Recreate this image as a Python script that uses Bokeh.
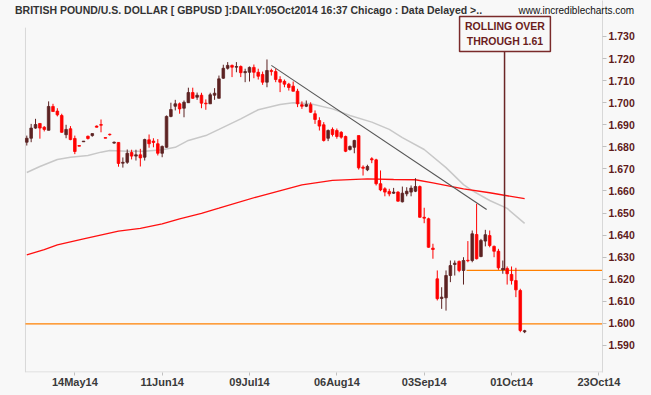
from bokeh.plotting import figure
from bokeh.models import ColumnDataSource, FixedTicker, PrintfTickFormatter, Range1d
from bokeh.core.properties import value
from bokeh.embed import file_html
from bokeh.resources import INLINE

# ---------------- data (GBPUSD daily, bar 0 = 29 Apr 2014, bar 114 = 05 Oct 2014) ----------------
opens = [
    1.6821, 1.6839, 1.6885, 1.6906, 1.6889, 1.6875, 1.6983, 1.6962, 1.6942, 1.6855,
    1.6882, 1.6838, 1.6806, 1.6823, 1.6848, 1.6851, 1.6894, 1.6901, 1.6842, 1.6857,
    1.6817, 1.6820, 1.6726, 1.6730, 1.6774, 1.6758, 1.6764, 1.6753, 1.6832, 1.6826,
    1.6814, 1.6771, 1.6798, 1.6938, 1.6984, 1.6995, 1.6975, 1.7000, 1.7046, 1.7025,
    1.7034, 1.6998, 1.6995, 1.7034, 1.7020, 1.7111, 1.7156, 1.7169, 1.7161, 1.7164,
    1.7136, 1.7138, 1.7160, 1.7138, 1.7128, 1.7093, 1.7146, 1.7141, 1.7105, 1.7097,
    1.7084, 1.7075, 1.7052, 1.6991, 1.6984, 1.6991, 1.6950, 1.6919, 1.6900, 1.6839,
    1.6879, 1.6874, 1.6866, 1.6847, 1.6788, 1.6798, 1.6851, 1.6708, 1.6696, 1.6746,
    1.6741, 1.6633, 1.6610, 1.6598, 1.6590, 1.6595, 1.6551, 1.6587, 1.6595, 1.6599,
    1.6620, 1.6481, 1.6474, 1.6341, 1.6202, 1.6113, 1.6116, 1.6217, 1.6267, 1.6281,
    1.6240, 1.6286, 1.6285, 1.6403, 1.6303, 1.6373, 1.6398, 1.6349, 1.6327, 1.6243,
    1.6249, 1.6222, 1.6194, 1.6149, 1.5962]
highs = [
    1.6851, 1.6904, 1.6927, 1.6906, 1.6894, 1.7006, 1.6995, 1.6975, 1.6950, 1.6900,
    1.6894, 1.6851, 1.6806, 1.6826, 1.6851, 1.6860, 1.6897, 1.6924, 1.6842, 1.6860,
    1.6824, 1.6821, 1.6752, 1.6788, 1.6787, 1.6787, 1.6791, 1.6837, 1.6856, 1.6839,
    1.6835, 1.6806, 1.6942, 1.7000, 1.7013, 1.7001, 1.7010, 1.7068, 1.7068, 1.7046,
    1.7045, 1.7015, 1.7045, 1.7066, 1.7123, 1.7172, 1.7184, 1.7173, 1.7184, 1.7169,
    1.7154, 1.7164, 1.7173, 1.7154, 1.7141, 1.7196, 1.7154, 1.7154, 1.7120, 1.7105,
    1.7090, 1.7096, 1.7063, 1.7006, 1.7010, 1.7002, 1.6965, 1.6934, 1.6912, 1.6879,
    1.6888, 1.6883, 1.6871, 1.6851, 1.6806, 1.6832, 1.6851, 1.6716, 1.6719, 1.6753,
    1.6746, 1.6693, 1.6617, 1.6610, 1.6614, 1.6599, 1.6620, 1.6617, 1.6625, 1.6658,
    1.6625, 1.6524, 1.6479, 1.6361, 1.6240, 1.6164, 1.6240, 1.6285, 1.6285, 1.6285,
    1.6300, 1.6373, 1.6421, 1.6542, 1.6383, 1.6424, 1.6421, 1.6353, 1.6338, 1.6285,
    1.6258, 1.6258, 1.6252, 1.6157, 1.5971]
lows = [
    1.6806, 1.6821, 1.6882, 1.6837, 1.6870, 1.6875, 1.6960, 1.6938, 1.6864, 1.6839,
    1.6830, 1.6767, 1.6803, 1.6823, 1.6833, 1.6846, 1.6888, 1.6866, 1.6839, 1.6851,
    1.6814, 1.6710, 1.6706, 1.6723, 1.6743, 1.6738, 1.6711, 1.6738, 1.6796, 1.6798,
    1.6761, 1.6753, 1.6796, 1.6934, 1.6965, 1.6950, 1.6934, 1.7000, 1.7018, 1.7013,
    1.6975, 1.6968, 1.6995, 1.7013, 1.7020, 1.7108, 1.7150, 1.7116, 1.7138, 1.7116,
    1.7093, 1.7096, 1.7111, 1.7105, 1.7081, 1.7070, 1.7123, 1.7093, 1.7048, 1.7070,
    1.7055, 1.7051, 1.6980, 1.6972, 1.6980, 1.6954, 1.6904, 1.6874, 1.6824, 1.6826,
    1.6847, 1.6837, 1.6837, 1.6776, 1.6783, 1.6771, 1.6697, 1.6670, 1.6690, 1.6726,
    1.6625, 1.6599, 1.6576, 1.6576, 1.6587, 1.6552, 1.6548, 1.6576, 1.6576, 1.6595,
    1.6479, 1.6454, 1.6343, 1.6293, 1.6104, 1.6066, 1.6058, 1.6187, 1.6217, 1.6232,
    1.6176, 1.6277, 1.6277, 1.6290, 1.6300, 1.6349, 1.6345, 1.6300, 1.6243, 1.6225,
    1.6176, 1.6176, 1.6119, 1.5960, 1.5956]
closes = [
    1.6839, 1.6885, 1.6901, 1.6885, 1.6879, 1.6983, 1.6960, 1.6945, 1.6866, 1.6879,
    1.6833, 1.6779, 1.6803, 1.6826, 1.6838, 1.6860, 1.6889, 1.6898, 1.6839, 1.6855,
    1.6821, 1.6725, 1.6730, 1.6771, 1.6758, 1.6764, 1.6750, 1.6833, 1.6814, 1.6820,
    1.6771, 1.6802, 1.6938, 1.6969, 1.6995, 1.6972, 1.7002, 1.7046, 1.7020, 1.7034,
    1.6998, 1.6995, 1.7036, 1.7043, 1.7108, 1.7156, 1.7169, 1.7161, 1.7164, 1.7136,
    1.7141, 1.7160, 1.7138, 1.7120, 1.7093, 1.7146, 1.7141, 1.7105, 1.7093, 1.7084,
    1.7069, 1.7052, 1.6995, 1.6984, 1.6992, 1.6957, 1.6924, 1.6894, 1.6829, 1.6874,
    1.6856, 1.6847, 1.6844, 1.6780, 1.6802, 1.6829, 1.6705, 1.6703, 1.6711, 1.6741,
    1.6633, 1.6605, 1.6595, 1.6587, 1.6595, 1.6554, 1.6590, 1.6599, 1.6613, 1.6620,
    1.6481, 1.6477, 1.6345, 1.6335, 1.6112, 1.6119, 1.6217, 1.6262, 1.6273, 1.6240,
    1.6285, 1.6284, 1.6406, 1.6293, 1.6376, 1.6402, 1.6353, 1.6327, 1.6252, 1.6249,
    1.6225, 1.6194, 1.6152, 1.5968, 1.5967]

# grey (shorter) moving average, read at bar positions
ma_short_bars = [0, 3, 7, 10, 14, 17, 19, 23, 27, 31, 34, 37, 41, 44, 49, 53, 58, 61,
                 65, 70, 74, 79, 83, 86, 91, 96, 100, 102, 106, 110, 114]
ma_short_vals = [1.6684, 1.6711, 1.6743, 1.6753, 1.6761, 1.6776, 1.6783, 1.6780, 1.6780,
                 1.6787, 1.6798, 1.6829, 1.6851, 1.6879, 1.6927, 1.6968, 1.6992, 1.7000,
                 1.6995, 1.6972, 1.6942, 1.6912, 1.6879, 1.6842, 1.6788, 1.6706, 1.6629,
                 1.6602, 1.6557, 1.6521, 1.6453]
# red (long) moving average
ma_long_bars = [0, 4, 7, 13, 21, 26, 31, 35, 40, 44, 53, 63, 70, 78, 84, 89, 93, 100, 106, 114]
ma_long_vals = [1.6311, 1.6334, 1.6356, 1.6383, 1.6418, 1.6431, 1.6451, 1.6474, 1.6499,
                1.6522, 1.6575, 1.6628, 1.6648, 1.6655, 1.6652, 1.6651, 1.6637, 1.6610,
                1.6592, 1.6565]

# hand-drawn trendline
trend_bars = [56, 105.3]
trend_prices = [1.7169, 1.6516]

# horizontal support/resistance lines
level_prices = [1.6240, 1.5998]
level_start_bars = [100.7, -0.3]
level_end_bars = [131.8, 131.8]

# axis ticks
x_tick_bars = [11, 31, 51, 71, 91, 111, 131]
x_tick_labels = ["14May14", "11Jun14", "09Jul14", "06Aug14", "03Sep14", "01Oct14", "23Oct14"]
y_ticks = [1.59, 1.60, 1.61, 1.62, 1.63, 1.64, 1.65, 1.66, 1.67, 1.68, 1.69, 1.70, 1.71, 1.72, 1.73]

# texts
title_text = "BRITISH POUND/U.S. DOLLAR [ GBPUSD ]:DAILY:05Oct2014 16:37 Chicago : Data Delayed >.."
site_text = "www.incrediblecharts.com"
note_lines = ["ROLLING OVER", "THROUGH 1.61"]

# annotation placement (bar index / price)
title_pos = (-2.70, 1.7418)
site_pos = (112.6, 1.7418)
note_box_bars = [99.1, 119.9]
note_box_prices = [1.7232, 1.7391]
note_text_bar = 109.5
note_text_prices = [1.7346, 1.7278]
note_pointer_bar = 109.4
note_pointer_prices = [1.7232, 1.6242]
frame_left_bar = -0.3
frame_top_price = 1.7340

# ---------------- styling ----------------
BG = "#f8f8f8"
UP = "#5c2222"
DOWN = "#ff0000"
FONT = "Liberation Sans"

X_RANGE = (-6.02, 131.83)
Y_RANGE = (1.57776, 1.74631)
bottom_border_price = Y_RANGE[0] + 0.00023

p = figure(frame_width=602, frame_height=372,
           x_range=Range1d(*X_RANGE), y_range=Range1d(*Y_RANGE),
           y_axis_location="right",
           output_backend="svg", toolbar_location=None,
           min_border_left=0, min_border_top=0, min_border_bottom=23, min_border_right=49,
           background_fill_color=BG, border_fill_color=BG, outline_line_color=None)
p.grid.visible = False

# axes
p.xaxis.ticker = FixedTicker(ticks=x_tick_bars)
p.xaxis.major_label_overrides = {b: lab for b, lab in zip(x_tick_bars, x_tick_labels)}
p.xaxis.axis_line_color = None
p.xaxis.major_tick_line_color = "#c0c0c0"
p.xaxis.major_tick_out = 3
p.xaxis.major_tick_in = 0
p.xaxis.major_label_standoff = 0
p.xaxis.minor_tick_line_color = None
p.xaxis.major_label_text_font = FONT
p.xaxis.major_label_text_font_style = "bold"
p.xaxis.major_label_text_font_size = "11px"
p.xaxis.major_label_text_color = "#3a3a3a"

p.yaxis.ticker = FixedTicker(ticks=y_ticks)
p.yaxis.formatter = PrintfTickFormatter(format="%.3f")
p.yaxis.axis_line_color = "#d8d8d8"
p.yaxis.major_tick_line_color = "#c0c0c0"
p.yaxis.major_tick_out = 4
p.yaxis.major_tick_in = 0
p.yaxis.major_label_standoff = 2
p.yaxis.minor_tick_line_color = None
p.yaxis.major_label_text_font = FONT
p.yaxis.major_label_text_font_style = "bold"
p.yaxis.major_label_text_font_size = "10.5px"
p.yaxis.major_label_text_color = "#5e1a1a"

# frame borders (left and bottom)
p.segment(x0=[frame_left_bar, frame_left_bar], x1=[frame_left_bar, X_RANGE[1]],
          y0=[Y_RANGE[0], bottom_border_price], y1=[frame_top_price, bottom_border_price],
          line_color="#d8d8d8", line_width=1)

# moving averages
p.line(ma_short_bars, ma_short_vals, line_color="#c8c8c8", line_width=1.5)
p.line(ma_long_bars, ma_long_vals, line_color="#ff1010", line_width=1.3)

# horizontal levels
p.segment(x0=level_start_bars, x1=level_end_bars, y0=level_prices, y1=level_prices,
          line_color="#ff8000", line_width=1.3)

# trendline
p.line(trend_bars, trend_prices, line_color="#555555", line_width=1.1)

# candles
bars = list(range(len(closes)))
colors = [UP if c > o else DOWN for o, c in zip(opens, closes)]
src = ColumnDataSource(dict(
    bar=bars, high=highs, low=lows,
    top=[max(o, c) for o, c in zip(opens, closes)],
    bottom=[min(o, c) for o, c in zip(opens, closes)],
    color=colors))
p.segment(x0="bar", x1="bar", y0="low", y1="high", line_color="color", line_width=1, source=src)
p.vbar(x="bar", top="top", bottom="bottom", width=0.6, fill_color="color",
       line_color="color", line_width=0.8, source=src)

# annotation box + pointer
p.segment(x0=[note_pointer_bar], x1=[note_pointer_bar],
          y0=[note_pointer_prices[0]], y1=[note_pointer_prices[1]],
          line_color="#6b2626", line_width=1.5)
p.quad(left=[note_box_bars[0]], right=[note_box_bars[1]],
       bottom=[note_box_prices[0]], top=[note_box_prices[1]],
       fill_color=BG, line_color="#7a2a2a", line_width=1.5)
p.text(x=[note_text_bar] * 2, y=note_text_prices, text=note_lines,
       text_font=value(FONT), text_font_style="bold", text_font_size="10.5px",
       text_color="#6b1c1c", text_align="center", text_baseline="middle")

# header texts (overlay level so they are not clipped to the plotting frame)
p.text(x=[title_pos[0]], y=[title_pos[1]], text=[title_text],
       text_font=value(FONT), text_font_style="bold", text_font_size="10.5px",
       text_color="#333333", text_align="left", text_baseline="middle", level="overlay")
p.text(x=[site_pos[0]], y=[site_pos[1]], text=[site_text],
       text_font=value(FONT), text_font_size="10px",
       text_color="#111111", text_align="left", text_baseline="middle", level="overlay")

STYLE = "<style>html, body { background: #f8f8f8; }</style>"
open("out.html", "w").write(file_html(p, INLINE).replace("</head>", STYLE + "</head>", 1))
